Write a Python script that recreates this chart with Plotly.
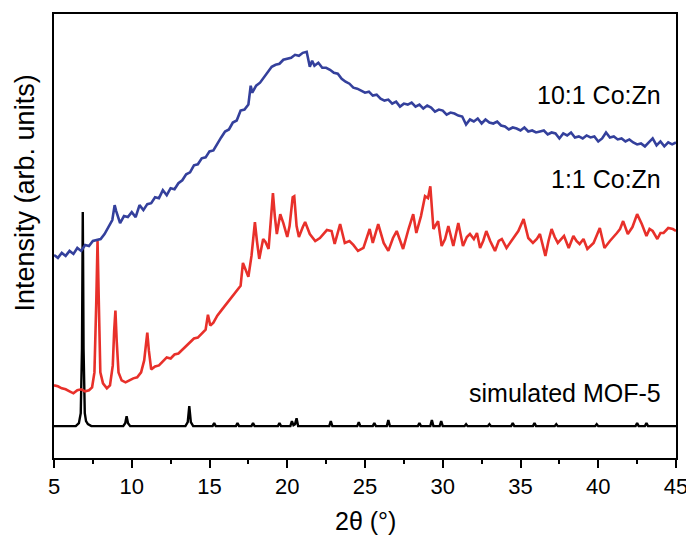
import plotly.graph_objects as go

# ---------------- data (2theta in degrees, intensity in arbitrary offset units) ----------------
sim_x = [5.0, 6.40, 6.60, 6.72, 6.80, 6.83, 6.85, 6.87, 6.90, 6.98, 7.06, 7.18, 7.40,
         9.45, 9.58, 9.67, 9.76, 9.90,
         13.45, 13.60, 13.70, 13.80, 13.95,
         15.2, 15.3, 15.4, 16.7, 16.8, 16.9, 17.7, 17.8, 17.9, 19.4, 19.5, 19.6,
         20.2, 20.3, 20.4, 20.5, 20.6, 20.7,
         22.7, 22.8, 22.9, 24.5, 24.6, 24.7, 25.5, 25.6, 25.7, 26.4, 26.5, 26.6,
         28.4, 28.5, 28.6, 29.2, 29.3, 29.4, 29.8, 29.9, 30.0, 31.4, 31.5, 31.6,
         32.9, 33.0, 33.1, 34.4, 34.5, 34.6, 35.8, 35.9, 36.0, 37.2, 37.3, 37.4,
         39.8, 39.9, 40.0, 42.4, 42.5, 42.6, 43.0, 43.1, 43.2, 45.0]
sim_y = [32, 32, 35, 45, 110, 200, 247, 200, 110, 45, 37, 34, 32,
         32, 35, 42, 35, 32,
         32, 36, 52, 36, 32,
         32, 35, 32, 32, 35, 32, 32, 35, 32, 32, 35, 32,
         32, 37, 33, 34, 40, 32,
         32, 37, 32, 32, 36, 32, 32, 35, 32, 32, 38, 32,
         32, 35, 32, 32, 38, 32, 32, 37, 32, 32, 34, 32,
         32, 34, 32, 32, 35, 32, 32, 35, 32, 32, 34, 32,
         32, 34, 32, 32, 35, 32, 32, 35, 32, 32]

red_x = [5.00, 5.25, 5.50, 5.75, 6.00, 6.25, 6.50, 6.75, 7.00, 7.25, 7.45, 7.60, 7.72, 7.80,
         7.88, 7.98, 8.15, 8.40, 8.60, 8.78, 8.87, 8.95, 9.03, 9.15, 9.35, 9.60, 9.85, 10.10,
         10.35, 10.60, 10.80, 10.92, 11.00, 11.10, 11.25, 11.50, 11.75, 12.00, 12.25, 12.50,
         12.75, 13.00, 13.25, 13.50, 13.75, 14.00, 14.25, 14.50, 14.75, 14.90, 15.05, 15.25,
         15.50, 15.75, 16.00, 16.25, 16.50, 16.75, 17.00, 17.15, 17.30, 17.50, 17.70, 17.80,
         17.92, 18.05, 18.20, 18.45, 18.60, 18.80, 18.95, 19.08, 19.20, 19.33, 19.55, 19.75,
         20.00, 20.15, 20.35, 20.45, 20.60, 20.75, 21.00, 21.15, 21.45, 21.80, 22.10, 22.30,
         22.55, 22.85, 23.05, 23.40, 23.70, 24.00, 24.25, 24.55, 24.90, 25.30, 25.50, 25.85,
         26.20, 26.50, 26.80, 27.04, 27.45, 27.80, 28.10, 28.30, 28.60, 28.86, 29.05, 29.20,
         29.40, 29.70, 29.93, 30.15, 30.36, 30.68, 31.00, 31.30, 31.55, 31.75, 32.00, 32.20,
         32.40, 32.60, 32.80, 33.05, 33.36, 33.60, 33.80, 34.10, 34.40, 34.65, 34.86, 35.20,
         35.50, 35.80, 36.05, 36.25, 36.60, 36.80, 37.00, 37.20, 37.40, 37.80, 38.10, 38.40,
         38.60, 38.80, 39.05, 39.30, 39.70, 40.10, 40.40, 40.75, 41.00, 41.20, 41.40, 41.60,
         41.90, 42.20, 42.50, 42.80, 43.10, 43.30, 43.50, 43.80, 44.00, 44.20, 44.50, 44.80,
         45.00]
red_y = [73, 72, 70, 69, 67, 65, 68, 69, 67, 68, 71, 86, 158, 218,
         158, 86, 75, 70, 73, 93, 128, 148, 118, 86, 78, 76, 78, 80,
         81, 86, 98, 120, 126, 108, 89, 92, 93, 97, 101, 100,
         104, 105, 109, 113, 116, 120, 121, 125, 129, 144, 133, 136,
         143, 148, 153, 158, 163, 168, 173, 196, 190, 182, 203, 218,
         237, 218, 200, 220, 217, 210, 238, 266, 243, 225, 245, 236,
         222, 233, 262, 263, 233, 222, 232, 237, 225, 218, 221, 225,
         229, 228, 215, 235, 216, 218, 214, 208, 211, 230, 216, 235,
         216, 208, 221, 228, 210, 230, 245, 226, 243, 263, 261, 273,
         230, 238, 213, 220, 233, 213, 236, 213, 222, 225, 220, 226,
         211, 218, 228, 218, 208, 218, 220, 211, 218, 223, 228, 240,
         221, 216, 220, 225, 203, 218, 230, 222, 216, 223, 211, 223,
         218, 215, 220, 210, 216, 231, 211, 218, 222, 226, 230, 238,
         225, 232, 245, 235, 223, 230, 228, 220, 226, 226, 231, 230,
         228]

blue_x = [5.00, 5.25, 5.50, 5.75, 6.00, 6.25, 6.50, 6.75, 7.00, 7.25, 7.50, 7.75, 8.00,
          8.25, 8.50, 8.75, 8.90, 9.00, 9.25, 9.50, 9.75, 10.00, 10.25, 10.50, 10.75, 11.00,
          11.25, 11.50, 11.75, 12.00, 12.25, 12.50, 12.75, 13.00, 13.25, 13.50, 13.75, 14.00,
          14.25, 14.50, 14.75, 15.00, 15.25, 15.50, 15.75, 16.00, 16.25, 16.50, 16.75, 17.00,
          17.25, 17.50, 17.65, 17.75, 18.00, 18.25, 18.50, 18.75, 19.00, 19.25, 19.50, 19.75,
          20.00, 20.25, 20.50, 20.75, 21.00, 21.25, 21.45, 21.60, 21.75, 22.00, 22.25, 22.50,
          22.75, 23.00, 23.25, 23.50, 23.75, 24.00, 24.25, 24.50, 24.75, 25.00, 25.25, 25.50,
          25.75, 26.00, 26.25, 26.50, 26.75, 27.00, 27.25, 27.50, 27.75, 28.00, 28.25, 28.50,
          28.75, 29.00, 29.25, 29.50, 29.75, 30.00, 30.25, 30.50, 30.75, 31.00, 31.25, 31.50,
          31.75, 32.00, 32.25, 32.50, 32.75, 33.00, 33.25, 33.50, 33.75, 34.00, 34.25, 34.50,
          34.75, 35.00, 35.25, 35.50, 35.75, 36.00, 36.25, 36.50, 36.75, 37.00, 37.25, 37.50,
          37.75, 38.00, 38.25, 38.50, 38.75, 39.00, 39.25, 39.50, 39.75, 40.00, 40.25, 40.50,
          40.75, 41.00, 41.25, 41.50, 41.75, 42.00, 42.25, 42.50, 42.75, 43.00, 43.25, 43.50,
          43.75, 44.00, 44.25, 44.50, 44.75, 45.00]
blue_y = [204, 201, 206, 203, 208, 205, 211, 208, 214, 213, 218, 219, 220,
          225, 232, 239, 254, 248, 236, 243, 242, 247, 242, 254, 249, 255,
          256, 262, 261, 269, 264, 271, 270, 276, 279, 285, 287, 294,
          295, 301, 302, 308, 309, 316, 322, 328, 330, 337, 339, 349,
          350, 355, 374, 367, 374, 377, 382, 387, 393, 395, 396, 400,
          401, 402, 405, 404, 407, 408, 393, 399, 394, 397, 392, 392,
          390, 387, 386, 381, 378, 376, 372, 371, 369, 367, 368, 364,
          365, 361, 359, 360, 356, 358, 353, 356, 355, 357, 353, 355,
          351, 354, 352, 348, 350, 349, 345, 347, 346, 344, 343, 335,
          340, 338, 341, 336, 340, 337, 336, 338, 334, 333, 330, 332,
          331, 329, 332, 328, 329, 327, 328, 329, 325, 327, 326, 321,
          326, 324, 327, 322, 323, 321, 324, 322, 323, 318, 321, 327,
          322, 323, 320, 321, 318, 320, 317, 315, 316, 313, 317, 321,
          314, 318, 313, 317, 315, 317]

assert len(sim_x) == len(sim_y)
assert len(red_x) == len(red_y)
assert len(blue_x) == len(blue_y)

x_ticks = [5, 10, 15, 20, 25, 30, 35, 40, 45]
labels = ["10:1 Co:Zn", "1:1 Co:Zn", "simulated MOF-5"]
label_y = [365, 280, 65]

FONT = "Liberation Sans, Arial, Helvetica, sans-serif"

fig = go.Figure()
fig.add_trace(go.Scatter(x=sim_x, y=sim_y, mode="lines",
                         line=dict(color="#000000", width=2.4), showlegend=False))
fig.add_trace(go.Scatter(x=red_x, y=red_y, mode="lines",
                         line=dict(color="#e8302a", width=2.6), showlegend=False))
fig.add_trace(go.Scatter(x=blue_x, y=blue_y, mode="lines",
                         line=dict(color="#34409c", width=2.6), showlegend=False))

for txt, yy in zip(labels, label_y):
    fig.add_annotation(x=44.15, y=yy, xref="x", yref="y", text=txt, showarrow=False,
                       xanchor="right", yanchor="middle",
                       font=dict(family=FONT, size=25, color="#000000"))

fig.add_annotation(x=0.5, y=-0.141, xref="paper", yref="paper", text="2θ (°)",
                   showarrow=False, xanchor="center", yanchor="middle",
                   font=dict(family=FONT, size=25, color="#000000"))
fig.add_annotation(x=-0.047, y=0.5975, xref="paper", yref="paper",
                   text="Intensity (arb. units)", textangle=-90, showarrow=False,
                   xanchor="center", yanchor="middle",
                   font=dict(family=FONT, size=27, color="#000000"))

# the page body has an 8px margin, so the figure is sized/offset to compensate
fig.update_layout(
    width=686, height=530,
    margin=dict(l=46, r=18, t=4, b=80),
    paper_bgcolor="white", plot_bgcolor="white",
    font=dict(family=FONT, color="#000000"),
)
fig.update_xaxes(range=[5, 45], tickvals=x_ticks, ticktext=[str(v) for v in x_ticks],
                 ticks="outside", ticklen=8, tickwidth=2, tickcolor="black",
                 minor=dict(dtick=2.5, ticks="outside", ticklen=4, tickwidth=2,
                            tickcolor="black", showgrid=False),
                 showline=True, linewidth=2, linecolor="black", mirror=True,
                 showgrid=False, zeroline=False,
                 tickfont=dict(family=FONT, size=22, color="black"))
fig.update_yaxes(range=[0, 446], showticklabels=False, ticks="",
                 showline=True, linewidth=2, linecolor="black", mirror=True,
                 showgrid=False, zeroline=False)

fig.write_html("out.html")
